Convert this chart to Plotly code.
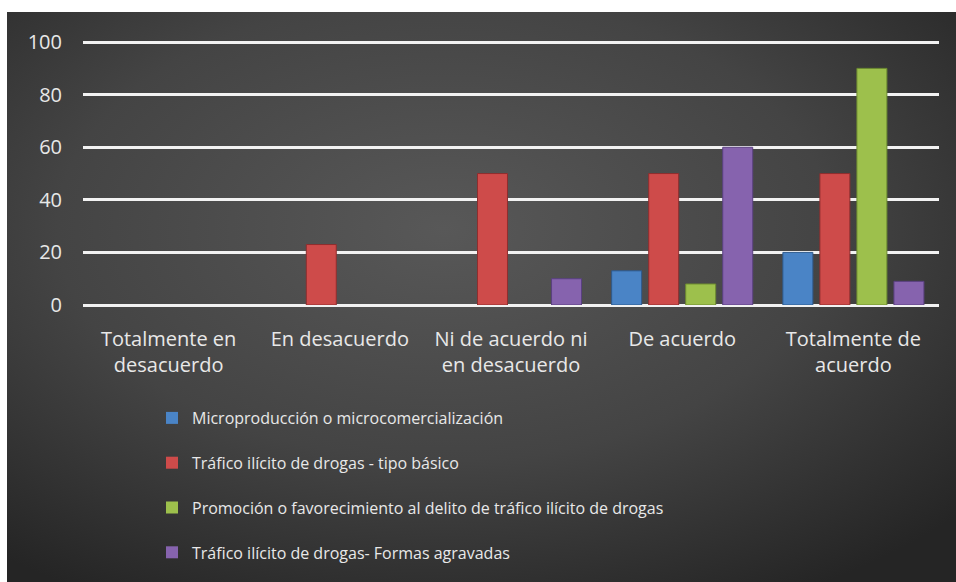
import base64
import plotly.graph_objects as go

categories = ["Totalmente en<br>desacuerdo", "En desacuerdo", "Ni de acuerdo ni<br>en desacuerdo",
              "De acuerdo", "Totalmente de<br>acuerdo"]
series_names = ["Microproducción o microcomercialización",
                "Tráfico ilícito de drogas - tipo básico",
                "Promoción o favorecimiento al delito de tráfico ilícito de drogas",
                "Tráfico ilícito de drogas- Formas agravadas"]
micro = [0, 0, 0, 13, 20]
basico = [0, 23, 50, 50, 50]
promocion = [0, 0, 0, 8, 90]
agravadas = [0, 0, 10, 60, 9]
y_ticks = [0, 20, 40, 60, 80, 100]

colors = ["#4A84C6", "#CE4B4A", "#9DC04C", "#8663AE"]
edges = ["#2E5A8C", "#8E2E2E", "#6C8A30", "#5A4080"]

W, H = 956, 582
YMAX = 100.8
L, R, T, B = 83, 17, 40, 277
pw, ph = W - L - R, H - T - B
BGX, BGY = 7, 12
BGW, BGH = W - BGX, H - BGY

svg = (f'<svg xmlns="http://www.w3.org/2000/svg" width="{BGW}" height="{BGH}" '
       f'viewBox="0 0 {BGW} {BGH}" preserveAspectRatio="none">'
       '<defs><radialGradient id="g" cx="0.46" cy="0.38" r="0.74" gradientUnits="objectBoundingBox">'
       '<stop offset="0" stop-color="#585858"/><stop offset="0.55" stop-color="#444444"/>'
       '<stop offset="1" stop-color="#252525"/></radialGradient></defs>'
       f'<rect width="{BGW}" height="{BGH}" fill="url(#g)"/></svg>')
src = "data:image/svg+xml;base64," + base64.b64encode(svg.encode()).decode()

fig = go.Figure()
for i, (name, vals) in enumerate(zip(series_names, [micro, basico, promocion, agravadas])):
    fig.add_trace(go.Bar(
        x=categories, y=vals, name=name, legendgroup=f"g{i}",
        marker=dict(color=colors[i],
                    line=dict(color=edges[i], width=[0 if v == 0 else 1 for v in vals])),
    ))

font = "Open Sans, Lato, sans-serif"
fig.update_layout(
    width=W, height=H,
    margin=dict(l=L, r=R, t=T, b=B, autoexpand=False),
    paper_bgcolor="white",
    plot_bgcolor="rgba(0,0,0,0)",
    barmode="group", bargap=0.135, bargroupgap=0.19,
    font=dict(family=font, color="#E8E8E8"),
    images=[dict(source=src, xref="paper", yref="paper",
                 x=(BGX - L) / pw, y=(H - B - BGY) / ph,
                 sizex=BGW / pw, sizey=BGH / ph,
                 sizing="stretch", layer="below", xanchor="left", yanchor="top")],
    xaxis=dict(showgrid=False, zeroline=False, showline=False, ticks="",
               tickfont=dict(size=20, color="#E8E8E8", family=font),
               ticklabelstandoff=20),
    yaxis=dict(range=[0, YMAX], tickvals=y_ticks, showgrid=True, gridcolor="#F2F2F2",
               gridwidth=2.5, zeroline=True, zerolinecolor="#F2F2F2", zerolinewidth=2.5,
               showline=False, ticks="", tickfont=dict(size=20, color="#E8E8E8", family=font),
               ticklabelstandoff=20),
    legend=dict(orientation="v", x=(152 - L) / pw, xanchor="left",
                y=(H - B - 401) / ph, yanchor="top",
                bgcolor="rgba(0,0,0,0)", tracegroupgap=21,
                font=dict(size=16, color="#E8E8E8", family=font)),
    showlegend=True,
)
fig.write_html("out.html", config={"displayModeBar": False},
               post_script="document.body.style.margin='0';document.body.style.overflow='hidden';"
                           "document.documentElement.style.overflow='hidden';")
